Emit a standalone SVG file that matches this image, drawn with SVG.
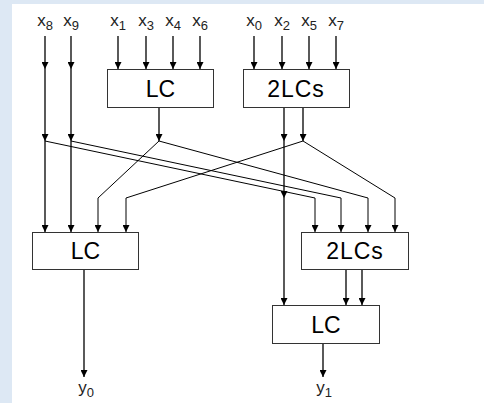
<svg xmlns="http://www.w3.org/2000/svg" width="484" height="403" viewBox="0 0 484 403">
  <style>
    .box { fill: #fff; stroke: #333; stroke-width: 1; }
    .name { font-family: "Liberation Sans", Arial, sans-serif; font-size: 23px; fill: #000; text-anchor: middle; }
    .wide { letter-spacing: 1px; }
    .sig { font-family: "Liberation Sans", Arial, sans-serif; font-size: 17px; fill: #222; text-anchor: middle; }
    .sub { font-size: 13px; }
    .wire { fill: none; stroke: #000; stroke-width: 1.3; marker-end: url(#ah); }
    .diag { stroke-width: 1; }
  </style>
  <defs>
    <marker id="ah" viewBox="0 0 7 7" refX="7" refY="3.5" markerWidth="7" markerHeight="7" markerUnits="userSpaceOnUse" orient="auto">
      <path d="M0,0 L7,3.5 L0,7 z" fill="#000"/>
    </marker>
  </defs>

  <!-- page frame -->
  <rect x="0" y="0" width="484" height="403" fill="#dde8f4"/>
  <rect x="12" y="4" width="472" height="399" fill="#fff"/>

  <!-- input labels -->
  <g id="inputs">
    <text class="sig" x="45" y="26">x<tspan class="sub" dy="4">8</tspan></text>
    <text class="sig" x="71" y="26">x<tspan class="sub" dy="4">9</tspan></text>
    <text class="sig" x="118" y="26">x<tspan class="sub" dy="4">1</tspan></text>
    <text class="sig" x="146" y="26">x<tspan class="sub" dy="4">3</tspan></text>
    <text class="sig" x="173" y="26">x<tspan class="sub" dy="4">4</tspan></text>
    <text class="sig" x="200" y="26">x<tspan class="sub" dy="4">6</tspan></text>
    <text class="sig" x="254" y="26">x<tspan class="sub" dy="4">0</tspan></text>
    <text class="sig" x="282" y="26">x<tspan class="sub" dy="4">2</tspan></text>
    <text class="sig" x="309" y="26">x<tspan class="sub" dy="4">5</tspan></text>
    <text class="sig" x="336" y="26">x<tspan class="sub" dy="4">7</tspan></text>
  </g>

  <!-- connectors -->
  <g id="connectors">
    <!-- x8, x9 pass-through -->
    <path class="wire" d="M45 36 V69"/>
    <path class="wire" d="M45 69 V141"/>
    <path class="wire" d="M45 141 V232"/>
    <path class="wire" d="M71 36 V69"/>
    <path class="wire" d="M71 69 V141"/>
    <path class="wire" d="M71 141 V232"/>
    <!-- inputs to top LC -->
    <path class="wire" d="M118 36 V69"/>
    <path class="wire" d="M146 36 V69"/>
    <path class="wire" d="M173 36 V69"/>
    <path class="wire" d="M200 36 V69"/>
    <!-- inputs to top 2LCs -->
    <path class="wire" d="M254 36 V69"/>
    <path class="wire" d="M282 36 V69"/>
    <path class="wire" d="M309 36 V69"/>
    <path class="wire" d="M336 36 V69"/>
    <!-- top LC output -->
    <path class="wire" d="M159 107 V141"/>
    <!-- top 2LCs outputs -->
    <path class="wire" d="M284 107 V141"/>
    <path class="wire" d="M284 141 V198"/>
    <path class="wire" d="M284 198 V305"/>
    <path class="wire" d="M303 107 V141"/>
    <!-- crossing wires -->
    <path class="wire diag" d="M45 141 L315 198 V232"/>
    <path class="wire diag" d="M71 141 L341 198 V232"/>
    <path class="wire diag" d="M159 141 L98 198 V232"/>
    <path class="wire diag" d="M159 141 L368 198 V232"/>
    <path class="wire diag" d="M303 141 L126 198 V232"/>
    <path class="wire diag" d="M303 141 L395 198 V232"/>
    <!-- lower 2LCs to lower right LC -->
    <path class="wire" d="M346 269 V305"/>
    <path class="wire" d="M362 269 V305"/>
    <!-- outputs -->
    <path class="wire" d="M84 269 V377"/>
    <path class="wire" d="M323 343 V377"/>
  </g>

  <g id="lc-top">
    <rect class="box" x="107.5" y="69.5" width="106" height="38"/>
    <text class="name" x="160.5" y="97">LC</text>
  </g>
  <g id="lcs-top">
    <rect class="box" x="243.5" y="69.5" width="106" height="38"/>
    <text class="name wide" x="296" y="97">2LCs</text>
  </g>
  <g id="lc-left">
    <rect class="box" x="32.5" y="232.5" width="106" height="37"/>
    <text class="name" x="85.5" y="259">LC</text>
  </g>
  <g id="lcs-right">
    <rect class="box" x="301.5" y="232.5" width="107" height="37"/>
    <text class="name wide" x="355" y="259">2LCs</text>
  </g>
  <g id="lc-out">
    <rect class="box" x="272.5" y="305.5" width="107" height="38"/>
    <text class="name" x="326" y="333">LC</text>
  </g>

  <!-- output labels -->
  <g id="outputs">
    <text class="sig" x="86" y="393">y<tspan class="sub" dy="4">0</tspan></text>
    <text class="sig" x="324" y="393">y<tspan class="sub" dy="4">1</tspan></text>
  </g>
</svg>
